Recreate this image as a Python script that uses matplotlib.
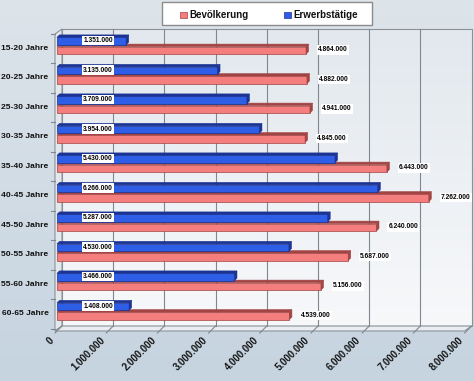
import numpy as np
import matplotlib
matplotlib.use("Agg")
import matplotlib.pyplot as plt
from matplotlib.patches import Polygon, Rectangle
from matplotlib.colors import LinearSegmentedColormap

plt.rcParams['font.family'] = ['Liberation Sans', 'DejaVu Sans']

categories = ['15-20 Jahre', '20-25 Jahre', '25-30 Jahre', '30-35 Jahre', '35-40 Jahre',
              '40-45 Jahre', '45-50 Jahre', '50-55 Jahre', '55-60 Jahre', '60-65 Jahre']
bevoelkerung = [4864000, 4882000, 4941000, 4845000, 6443000, 7262000, 6240000, 5687000, 5156000, 4539000]
erwerbstaetige = [1351000, 3135000, 3709000, 3954000, 5430000, 6266000, 5287000, 4530000, 3466000, 1408000]
bev_labels = ['4.864.000', '4.882.000', '4.941.000', '4.845.000', '6.443.000',
              '7.262.000', '6.240.000', '5.687.000', '5.156.000', '4.539.000']
erw_labels = ['1.351.000', '3.135.000', '3.709.000', '3.954.000', '5.430.000',
              '6.266.000', '5.287.000', '4.530.000', '3.466.000', '1.408.000']
x_ticks = [0, 1000000, 2000000, 3000000, 4000000, 5000000, 6000000, 7000000, 8000000]
x_tick_labels = ['0', '1.000.000', '2.000.000', '3.000.000', '4.000.000',
                 '5.000.000', '6.000.000', '7.000.000', '8.000.000']
series_names = ['Bevölkerung', 'Erwerbstätige']

W, H = 474, 381
fig = plt.figure(figsize=(W / 100, H / 100), dpi=100)

# background
bg = fig.add_axes([0, 0, 1, 1])
bg.set_xlim(0, W)
bg.set_ylim(H, 0)
bg.axis('off')
cm_bg = LinearSegmentedColormap.from_list('bg', ['#dde4ea', '#c6d4e0'])
bg.imshow(np.linspace(0, 1, 256).reshape(-1, 1), cmap=cm_bg, extent=(0, W, H, 0), aspect='auto', zorder=0)

# main axes: data coordinates
X0, S = 57.0, 51.2e-6       # px of value 0, px per unit
YC0, P = 48.3, 29.5          # px of first category center, px per category
ax = fig.add_axes([0, 0, 1, 1])
ax.patch.set_alpha(0)
ax.set_xlim(-X0 / S, (W - X0) / S)
ax.set_ylim((H - YC0) / P, -YC0 / P)
ax.axis('off')


def dx(p):
    return p / S


def dy(p):
    return p / P


def Y(py):
    return (py - YC0) / P


xmax = x_ticks[-1]
fx, bx = dx(-2), dx(5)
y_front, y_back, y_top_back, y_top_front = Y(331), Y(326), Y(29), Y(34)

# back wall gradient
cm_wall = LinearSegmentedColormap.from_list('wall', ['#e2e8ee', '#f7f8fa'])
ax.imshow(np.linspace(0, 1, 256).reshape(-1, 1), cmap=cm_wall,
          extent=(bx, xmax + bx, y_back, y_top_back), aspect='auto', zorder=1)
ax.add_patch(Rectangle((bx, y_top_back), xmax, y_back - y_top_back, fill=False,
                       ec='#8a9299', lw=0.8, zorder=2))
# left wall
ax.add_patch(Polygon([(fx, y_front), (bx, y_back), (bx, y_top_back), (fx, y_top_front)],
                     closed=True, fc='#e3e8ed', ec='#8a9299', lw=0.8, zorder=2))
# floor
ax.add_patch(Polygon([(fx, y_front), (xmax + fx, y_front), (xmax + bx, y_back), (bx, y_back)],
                     closed=True, fc='#e9edf1', ec='#8a9299', lw=0.8, zorder=2))
# gridlines
for v in x_ticks[1:-1]:
    ax.plot([v + bx, v + bx], [y_back, y_top_back], color='#7f878f', lw=0.8, zorder=2)
for v in x_ticks:
    ax.plot([v + fx, v + bx], [Y(333), y_back], color='#7f878f', lw=0.8, zorder=2)
# left axis ticks
for k in range(len(categories) + 1):
    yb = k - 0.5
    ax.plot([fx - dx(4), fx], [yb, yb], color='#7f878f', lw=0.8, zorder=2)

idx = np.arange(len(categories))
d = 2.5
red_f, red_d = '#f47d7d', '#a34444'
blue_f, blue_d = '#2e5de6', '#1b3393'


def draw_3d(yc, height, values, fc, dc):
    bars = ax.barh(yc, values, height=height, left=0, color=fc, edgecolor=dc, lw=0.5, zorder=4)
    for rect, v in zip(bars, values):
        top = rect.get_y()
        bot = top + rect.get_height()
        ax.add_patch(Polygon([(0, top), (dx(d), top - dy(d)), (v + dx(d), top - dy(d)), (v, top)],
                             closed=True, fc=dc, ec=dc, lw=0.4, zorder=4))
        ax.add_patch(Polygon([(v, top), (v + dx(d), top - dy(d)), (v + dx(d), bot - dy(d)), (v, bot)],
                             closed=True, fc=dc, ec=dc, lw=0.4, zorder=4))
    return bars


draw_3d(idx + dy(2.0), dy(7.4), bevoelkerung, red_f, red_d)
draw_3d(idx - dy(7.3), dy(7.2), erwerbstaetige, blue_f, blue_d)

box = dict(boxstyle='square,pad=0.18', fc='white', ec='none')
for i in idx:
    ax.text(dx(41), i - dy(7.8), erw_labels[i], ha='center', va='center',
            fontsize=4.8, fontweight='bold', bbox=box, zorder=6)
    ax.text(bevoelkerung[i] + dx(12), i + dy(1.5), bev_labels[i], ha='left', va='center',
            fontsize=4.8, fontweight='bold', bbox=box, zorder=6)
    ax.text(dx(48.5 - X0), i, categories[i], ha='right', va='center',
            fontsize=6.1, fontweight='bold', color='#111111', zorder=6)

for v, lab in zip(x_ticks, x_tick_labels):
    ax.text(v + dx(-5), Y(339), lab, rotation=45, rotation_mode='anchor',
            ha='right', va='center', fontsize=6.9, fontweight='bold', color='#111111', zorder=6)

# legend
bg_l = fig.add_axes([0, 0, 1, 1])
bg_l.set_xlim(0, W)
bg_l.set_ylim(H, 0)
bg_l.axis('off')
bg_l.patch.set_alpha(0)
bg_l.add_patch(Rectangle((162, 2), 210, 23, fc='white', ec='#8c8c8c', lw=1.0))
bg_l.add_patch(Rectangle((180, 11.5), 7, 6, fc=red_f, ec=red_d, lw=0.5))
bg_l.text(189, 14.5, series_names[0], ha='left', va='center', fontsize=7, fontweight='bold', color='#111111')
bg_l.add_patch(Rectangle((284, 11.5), 7, 6, fc=blue_f, ec=blue_d, lw=0.5))
bg_l.text(293, 14.5, series_names[1], ha='left', va='center', fontsize=7, fontweight='bold', color='#111111')

fig.savefig('out.png', dpi=100)
